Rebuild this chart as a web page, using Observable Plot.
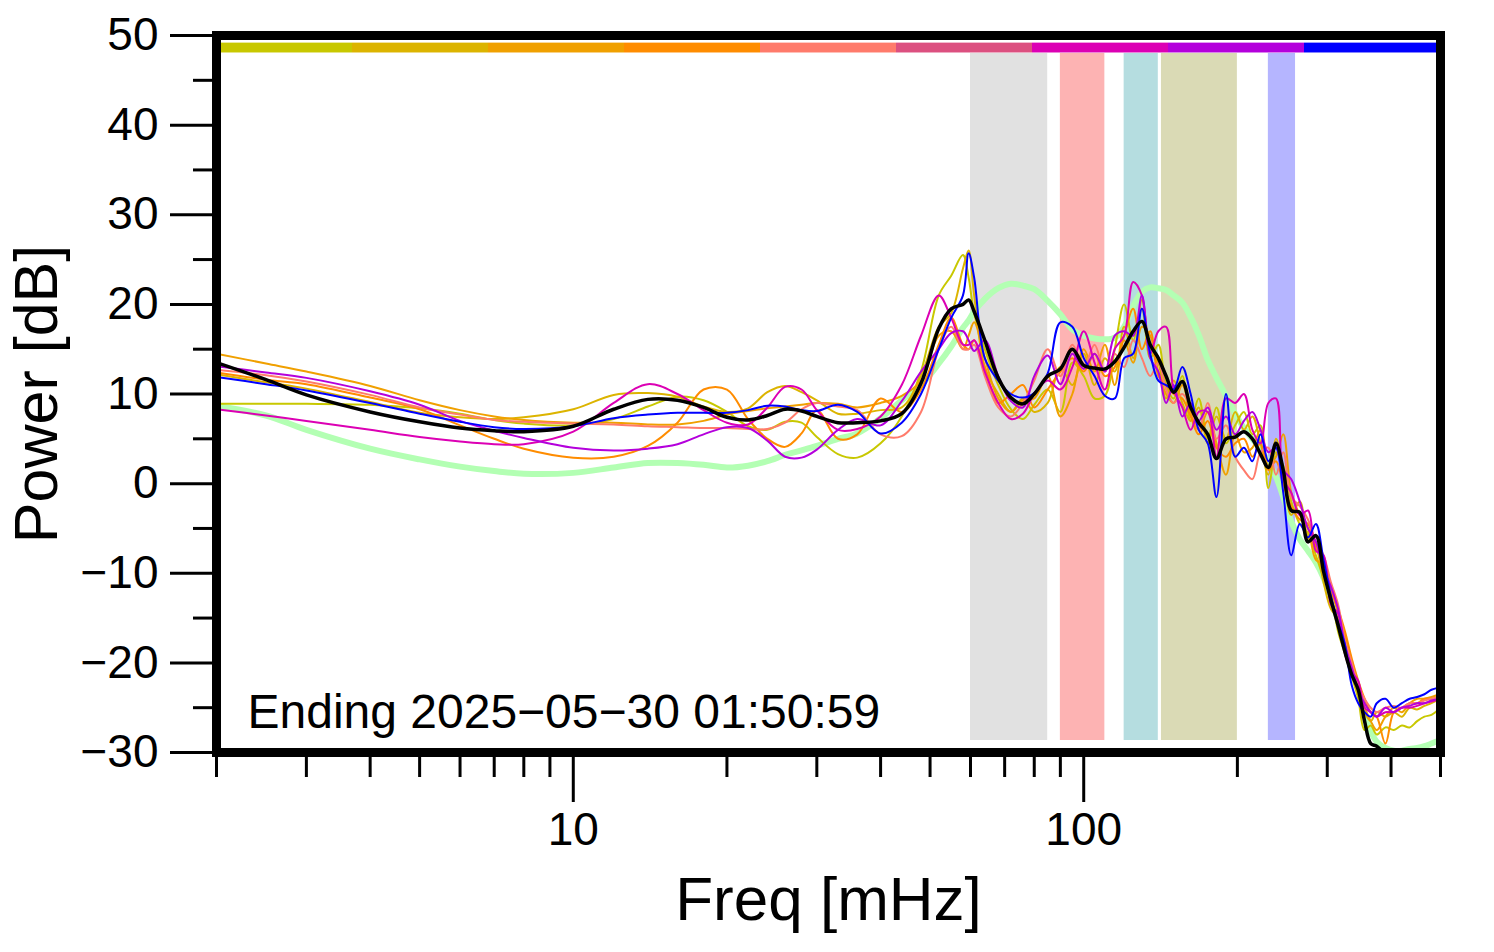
<!DOCTYPE html>
<html>
<head>
<meta charset="utf-8">
<script src="https://cdn.jsdelivr.net/npm/d3@7"></script>
<script src="https://cdn.jsdelivr.net/npm/@observablehq/plot@0.6"></script>
<style>
  html, body { margin: 0; padding: 0; background: #fff; }
</style>
</head>
<body>
<div id="chart"></div>
<script>
// ---------------- data ----------------
const freqs = [2, 2.5, 3, 4, 5, 6, 7, 8,
  10, 12, 14, 16, 18, 20, 22, 24, 26, 28, 30,
  33, 36, 40, 44, 48,
  52, 55, 58, 59.5, 61, 64, 68, 72, 76, 80, 85, 90, 95, 100,
  105, 110, 115, 120, 125, 130, 135, 140, 145, 150,
  156, 162, 168, 175, 182, 190, 198,
  206, 214, 222, 230, 238, 246, 255, 265,
  275, 285, 295, 305, 315, 325, 335, 345, 355, 365, 375,
  390, 405, 420, 435, 450, 465, 480, 500];

const meanDb = [13.5, 11.6, 9.9, 8.0, 6.9, 6.2, 5.9, 5.8,
  6.4, 8.3, 9.4, 9.3, 8.5, 7.4, 7.1, 7.6, 8.3, 8.1, 7.5,
  6.8, 6.8, 7.0, 7.8, 11.2,
  17.3, 19.5, 20.0, 20.5, 19.2, 16.0, 11.8, 9.6, 8.9, 10.0, 12.0, 12.8, 15.0, 13.2,
  12.9, 12.8, 13.6, 15.2, 17.0, 18.1, 15.5, 14.0, 12.0, 10.2,
  11.4, 8.5, 6.8, 5.5, 2.8, 5.0, 5.2,
  5.8, 5.0, 3.3, 1.8, 4.5, 1.5, -3.0, -3.2,
  -6.5, -5.8, -9.8, -13.0, -15.8, -18.8, -21.3, -23.0, -26.5, -29.0, -29.3,
  -30.2, -31, -31, -31, -31, -31, -30.5, -29.6];

const refDb = [8.7, 7.6, 6.0, 3.9, 2.7, 1.9, 1.4, 1.1,
  1.2, 1.8, 2.3, 2.3, 2.1, 1.8, 2.0, 2.5, 3.2, 3.7, 4.2,
  5.0, 5.6, 7.3, 9.3, 11.0,
  13.4, 15.3, 17.4, 18.2, 19.2, 20.6, 21.8, 22.3, 22.1, 21.7, 20.4, 18.9, 17.2, 16.5,
  16.2, 16.1, 16.3, 17.5, 19.8, 21.4, 21.9, 21.8, 21.6, 21.0,
  20.2, 18.6, 16.6, 13.8, 11.8, 9.8, 7.8,
  6.2, 5.0, 3.8, 2.4, 0.8, -1.5, -4.2, -6.2,
  -7.5, -8.8, -10.5, -12.8, -15.3, -17.8, -20.5, -22.8, -25.5, -27.6, -28.8,
  -29.5, -29.8, -29.8, -29.6, -29.5, -29.3, -29.0, -28.6];

const day1 = [8.9, 8.9, 8.9, 8.8, 8.4, 7.8, 7.1, 6.7,
  6.5, 7.2, 8.6, 9.7, 9.3, 8.0, 6.4, 6.0, 6.9, 6.8, 5.2,
  3.3, 2.9, 4.5, 7.5, 12.5,
  21.0, 23.2, 25.5, 23.0, 19.0, 15.0, 11.0, 8.3, 7.2, 8.8, 10.5, 8.0, 13.5, 12.0,
  9.5, 9.8, 15.0, 20.0, 16.0, 19.5, 14.0, 15.5, 11.0, 9.5,
  12.0, 7.0, 9.5, 5.0, 8.5, 4.5, 6.5,
  8.0, 5.5, 6.5, -0.5, 3.5, 2.0, -2.0, -4.5,
  -5.5, -8.0, -10.5, -12.5, -16.5, -19.0, -21.5, -24.0, -27.5, -27.0, -28.0,
  -27.2, -27.5, -27.0, -27.2, -26.5, -26.0, -25.8, -25.0];

const day2 = [12.2, 11.3, 10.6, 9.1, 7.9, 7.4, 7.2, 7.4,
  8.3, 9.9, 10.1, 9.7, 8.6, 8.0, 8.4, 10.2, 10.9, 10.2, 9.3,
  7.8, 7.8, 8.2, 8.5, 12.0,
  17.5, 19.0, 24.0, 26.0, 21.0, 13.0, 10.0, 8.0, 9.5, 8.0, 9.0, 13.0, 11.0, 14.5,
  11.0, 14.0, 12.5, 17.5, 14.0, 20.5, 15.0, 13.5, 9.5, 11.5,
  9.0, 7.0, 8.5, 4.5, 7.5, 5.0, 8.0,
  6.0, 7.5, 4.5, 1.0, 5.0, 1.0, -3.5, -2.0,
  -6.0, -7.0, -11.0, -14.0, -15.0, -18.0, -21.0, -23.5, -25.5, -26.5, -25.5,
  -26.0, -25.5, -26.0, -25.0, -25.2, -24.8, -24.5, -24.0];

const day3 = [14.5, 13.4, 12.5, 10.9, 9.3, 8.2, 7.5, 7.1,
  6.8, 6.8, 6.6, 6.6, 7.0, 7.7, 8.1, 8.4, 8.6, 8.8, 9.0,
  8.9, 8.5, 9.0, 9.8, 11.5,
  16.5, 17.0, 15.0, 16.5, 18.0, 14.0, 9.5, 8.0, 9.3, 9.5, 12.0, 7.5, 10.0, 15.0,
  12.5, 15.5, 11.0, 16.0, 13.5, 17.5, 16.5, 12.5, 10.0, 9.0,
  11.0, 8.0, 6.0, 8.0, 4.5, 1.0, 5.5,
  3.5, 4.0, 6.0, 2.0, 3.0, 5.5, -1.0, -3.5,
  -5.0, -8.5, -9.0, -11.5, -14.5, -17.0, -20.5, -23.0, -25.0, -26.5, -27.5,
  -26.0, -25.0, -25.5, -24.5, -24.0, -24.0, -23.8, -23.5];

const day4 = [12.4, 11.6, 11.1, 9.6, 8.3, 6.5, 5.0, 3.9,
  2.9, 3.0, 4.2, 6.8, 10.5, 10.5, 7.2, 5.0, 4.1, 5.6, 8.2,
  5.0, 5.5, 9.5, 8.0, 10.5,
  15.5, 18.5, 15.5, 15.0, 16.0, 13.0, 9.0, 10.0, 11.0, 8.5, 10.5, 12.5, 14.0, 12.5,
  14.5, 12.0, 13.0, 16.5, 19.5, 15.0, 17.0, 12.0, 11.0, 10.0,
  9.5, 7.5, 5.5, 7.0, 4.0, 3.0, 4.5,
  5.0, 3.0, 4.5, 1.5, 2.5, 0.0, -2.5, -4.0,
  -4.5, -7.0, -8.5, -12.0, -14.0, -16.5, -19.5, -22.0, -24.0, -25.5, -26.0,
  -29.0, -25.5, -25.0, -24.5, -24.5, -24.0, -24.0, -23.8];

const day5 = [12.7, 12.1, 11.4, 9.9, 8.5, 7.7, 7.1, 6.9,
  6.7, 6.6, 6.4, 6.3, 6.2, 6.2, 6.1, 6.1, 6.8, 8.3, 9.0,
  8.6, 8.2, 5.5, 5.3, 8.0,
  15.0, 17.5, 15.0, 15.0, 15.5, 12.0, 8.5, 7.5, 9.0, 11.5, 15.0, 12.0, 15.5, 13.0,
  15.5, 12.5, 14.5, 13.0, 16.0, 14.0, 12.0, 13.5, 10.5, 9.0,
  10.0, 8.5, 6.0, 9.0, 5.0, 6.5, 3.0,
  1.5, 0.5, 3.5, 4.0, 1.0, 3.5, -1.5, -2.5,
  -4.0, -6.5, -8.0, -11.0, -13.5, -17.5, -20.0, -22.5, -24.0, -25.0, -25.5,
  -25.0, -24.8, -25.0, -24.5, -24.5, -24.2, -24.0, -23.8];

const day7 = [8.3, 7.6, 7.0, 6.0, 5.2, 4.7, 4.4, 4.4,
  5.8, 9.0, 11.1, 10.0, 8.2, 6.8, 6.6, 8.5, 10.8, 10.5, 8.2,
  6.0, 6.1, 7.5, 11.0, 16.5,
  21.0, 18.5, 15.5, 15.5, 16.0, 12.5, 9.0, 7.2, 7.8, 10.0, 11.5, 10.5, 13.0, 17.0,
  13.5, 10.5, 15.0, 16.5, 22.5, 21.0, 14.5, 17.0, 17.5, 10.5,
  8.5, 6.0, 8.0, 8.0, 3.0, 9.5, 9.0,
  10.0, 6.0, 4.5, 9.0, 9.5, 0.5, -1.0, -3.5,
  -3.0, -7.5, -8.0, -13.5, -14.5, -19.0, -21.0, -22.0, -25.0, -25.5, -26.0,
  -25.5, -25.5, -25.0, -25.0, -24.8, -24.5, -24.3, -24.0];

const day8 = [13.1, 12.4, 11.8, 10.3, 8.8, 7.0, 5.9, 5.1,
  4.0, 3.7, 3.9, 4.4, 5.5, 6.3, 6.2, 4.8, 3.0, 2.9, 3.8,
  6.0, 7.2, 6.5, 9.2, 12.5,
  15.0, 16.8, 17.0, 16.0, 14.8, 16.0, 12.0, 9.2, 8.5, 12.0, 14.3, 11.1, 14.5, 12.8,
  14.5, 12.5, 16.5, 17.0, 16.5, 21.0, 14.0, 12.5, 9.0, 11.0,
  7.5, 9.0, 7.0, 8.5, 6.0, 7.5, 5.5,
  7.0, 8.0, 6.0, 3.5, 4.0, 1.5, 0.5, -2.0,
  -5.0, -6.5, -9.5, -11.5, -14.0, -18.0, -20.5, -23.0, -24.5, -25.5, -26.0,
  -25.0, -25.5, -25.0, -24.8, -24.5, -24.5, -24.2, -24.0];

const day9 = [11.9, 11.1, 10.4, 9.0, 7.8, 6.9, 6.3, 6.1,
  6.4, 7.3, 7.7, 7.9, 7.9, 7.9, 8.2, 8.7, 8.6, 8.2, 8.1,
  8.8, 8.0, 5.6, 6.8, 10.0,
  15.0, 18.5, 21.0, 25.7, 23.0, 14.0, 11.5, 10.0, 9.6, 10.1, 12.3, 18.0, 17.5, 14.0,
  12.0, 9.8, 9.5, 14.0, 14.5, 19.5, 14.5, 11.5, 11.0, 10.5,
  13.0, 10.0, 6.0, 4.5, -1.5, 10.0, 3.0,
  4.0, 2.5, 5.5, 2.5, 4.0, -1.0, -8.0, -4.5,
  -6.0, -4.5, -8.5, -12.5, -15.5, -18.0, -22.5, -24.5, -25.5, -26.0, -24.5,
  -24.0, -25.0, -24.5, -24.0, -23.8, -23.5, -23.0, -22.7];

// colour bar (one segment per day) and the series drawn for each day
const dayColors = ["#c8c800", "#dcb400", "#f0a000", "#ff8c00", "#ff7b6b", "#dc5080", "#dc00b4", "#b400dc", "#0000ff"];
const daySeries = [day1, day2, day3, day4, day5, null, day7, day8, day9];

// shaded frequency bands
const bandLo = [60, 90, 120, 142, 230];
const bandHi = [85, 110, 140, 200, 260];
const bandColors = ["#e1e1e1", "#fdb3b3", "#b5dde0", "#dadab5", "#b5b5ff"];

// axis ticks
const yMajor = [-30, -20, -10, 0, 10, 20, 30, 40, 50];
const yMinor = [-25, -15, -5, 5, 15, 25, 35, 45];
const xMajor = [10, 100];
const xMinor = [2, 3, 4, 5, 6, 7, 8, 9, 20, 30, 40, 50, 60, 70, 80, 90, 200, 300, 400, 500];

const xLabel = "Freq [mHz]";
const yLabel = "Power [dB]";
const note = "Ending 2025\u221205\u221230 01:50:59";

// ---------------- build ----------------
const xDomain = [2, 500];
const rowsOf = (arr) => freqs.map((f, i) => ({f, db: arr[i]}));

const bands = bandLo.map((lo, i) => ({lo, hi: bandHi[i], color: bandColors[i]}));
const nSeg = dayColors.length;
const ratio = xDomain[1] / xDomain[0];
const segments = dayColors.map((color, i) => ({
  lo: xDomain[0] * Math.pow(ratio, i / nSeg),
  hi: xDomain[0] * Math.pow(ratio, (i + 1) / nSeg),
  color
}));

const fmt = d => d < 0 ? "\u2212" + (-d) : String(d);

const dayLines = daySeries
  .map((arr, i) => arr ? Plot.line(rowsOf(arr), {x: "f", y: "db", stroke: dayColors[i], strokeWidth: 2, curve: "catmull-rom", clip: true}) : null)
  .filter(Boolean);

const chart = Plot.plot({
  width: 1494,
  height: 952,
  marginLeft: 216,
  marginRight: 54,
  marginTop: 35,
  marginBottom: 200,
  style: {fontFamily: "'Liberation Sans', Arial, Helvetica, sans-serif", background: "#fff", color: "#000"},
  x: {type: "log", domain: xDomain},
  y: {domain: [-30, 50]},
  color: {type: "identity"},
  marks: [
    Plot.rect(bands, {x1: "lo", x2: "hi", y1: -28.66, y2: 48.0, fill: "color"}),
    Plot.rect(segments, {x1: "lo", x2: "hi", y1: 48.05, y2: 49.15, fill: "color"}),
    Plot.line(rowsOf(refDb), {x: "f", y: "db", stroke: "#b3ffb3", strokeWidth: 6, curve: "catmull-rom", clip: true}),
    ...dayLines,
    Plot.line(rowsOf(meanDb), {x: "f", y: "db", stroke: "#000", strokeWidth: 3.5, curve: "catmull-rom", clip: true}),
    Plot.frame({stroke: "#000", strokeWidth: 9}),
    Plot.axisY({ticks: yMajor, tickSize: 46, tickPadding: 12, fontSize: 46, strokeWidth: 3, tickFormat: fmt, label: null}),
    Plot.axisY({ticks: yMinor, tickSize: 23, strokeWidth: 3, tickFormat: () => "", label: null}),
    Plot.axisX({ticks: xMinor, tickSize: 25, strokeWidth: 3, tickFormat: () => "", label: null}),
    Plot.axisX({ticks: xMajor, tickSize: 50, tickPadding: 10, fontSize: 46, strokeWidth: 3, tickFormat: d => String(d), label: null}),
    Plot.text([xLabel], {frameAnchor: "bottom", dy: 148, textAnchor: "middle", lineAnchor: "middle", fontSize: 62, fill: "#000"}),
    Plot.text([yLabel], {frameAnchor: "left", dx: -179, rotate: -90, textAnchor: "middle", lineAnchor: "middle", fontSize: 61, fill: "#000"}),
    Plot.text([note], {frameAnchor: "bottom-left", dx: 31, dy: -40, textAnchor: "start", lineAnchor: "middle", fontSize: 48, fill: "#000"})
  ]
});
document.getElementById("chart").appendChild(chart);
</script>
</body>
</html>
